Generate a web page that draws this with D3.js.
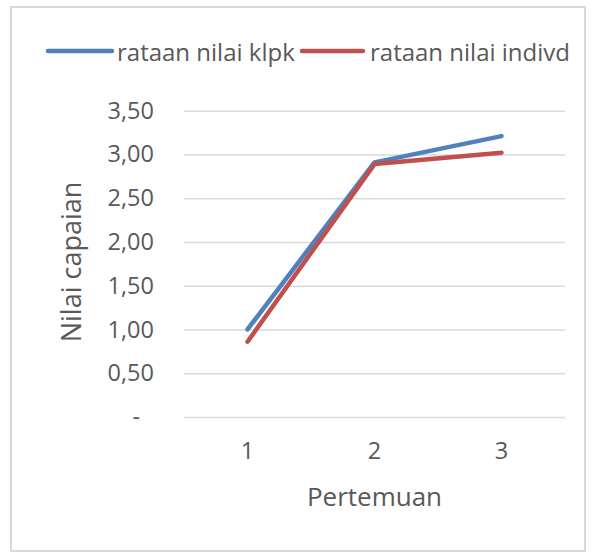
<!DOCTYPE html>
<html><head><meta charset="utf-8">
<script src="https://cdn.jsdelivr.net/npm/d3@7"></script>
<style>html,body{margin:0;padding:0;background:#fff}svg{display:block}text{font-family:"Open Sans",sans-serif;fill:#595959}</style>
</head><body><svg id="c" width="595" height="557"></svg>
<script>
const categories = ["1","2","3"];
const seriesNames = ["rataan nilai klpk","rataan nilai indivd"];
const klpk = [1.00, 2.91, 3.21];
const indivd = [0.86, 2.89, 3.02];
const yTicks = [0,0.5,1,1.5,2,2.5,3,3.5];
const colors = ["#4F81BD","#C0504D"];

const svg = d3.select("#c");
svg.append("rect").attr("x",11).attr("y",7).attr("width",574).attr("height",544)
  .attr("fill","#fff").attr("stroke","#d9d9d9").attr("stroke-width",2);

const m = {l:184,r:565,t:110.7,b:417};
const x = d3.scaleBand().domain(categories).range([m.l,m.r]);
const y = d3.scaleLinear().domain([0,3.5]).range([m.b,m.t]);

const fmt = v => v===0 ? "-" : d3.format(".2f")(v).replace(".",",");
const ya = svg.append("g").attr("transform",`translate(${m.l},0)`)
  .call(d3.axisLeft(y).tickValues(yTicks).tickSize(-(m.r-m.l)).tickFormat(fmt).tickPadding(30));
ya.select(".domain").remove();
ya.selectAll(".tick line").attr("stroke","#d9d9d9").attr("stroke-width",1.5);
ya.selectAll(".tick text").attr("font-size",23.5).attr("fill","#595959")
  .attr("dx", d => d===0 ? -14 : 0);

const xa = svg.append("g").attr("transform",`translate(0,${m.b})`)
  .call(d3.axisBottom(x).tickSize(0).tickPadding(25));
xa.select(".domain").remove();
xa.selectAll(".tick text").attr("font-size",23.5).attr("fill","#595959");

svg.append("text").attr("x",(m.l+m.r)/2).attr("y",506).attr("text-anchor","middle")
  .attr("font-size",26).text("Pertemuan");
svg.append("text").attr("transform","translate(81,262) rotate(-90)").attr("text-anchor","middle")
  .attr("font-size",27).text("Nilai capaian");

const line = d3.line().x((d,i)=>x(categories[i])+x.bandwidth()/2).y(d=>y(d));
[klpk,indivd].forEach((s,i)=>{
  svg.append("path").datum(s).attr("d",line).attr("fill","none")
    .attr("stroke",colors[i]).attr("stroke-width",4.5).attr("stroke-linecap","round").attr("stroke-linejoin","round");
});

// legend
const leg = [{x1:48,x2:112,tx:117},{x1:302,x2:363,tx:370}];
leg.forEach((l,i)=>{
  svg.append("line").attr("x1",l.x1).attr("x2",l.x2).attr("y1",51).attr("y2",51)
    .attr("stroke",colors[i]).attr("stroke-width",4.5).attr("stroke-linecap","round");
  svg.append("text").attr("x",l.tx).attr("y",60.5).attr("font-size",24).text(seriesNames[i]);
});
</script></body></html>
